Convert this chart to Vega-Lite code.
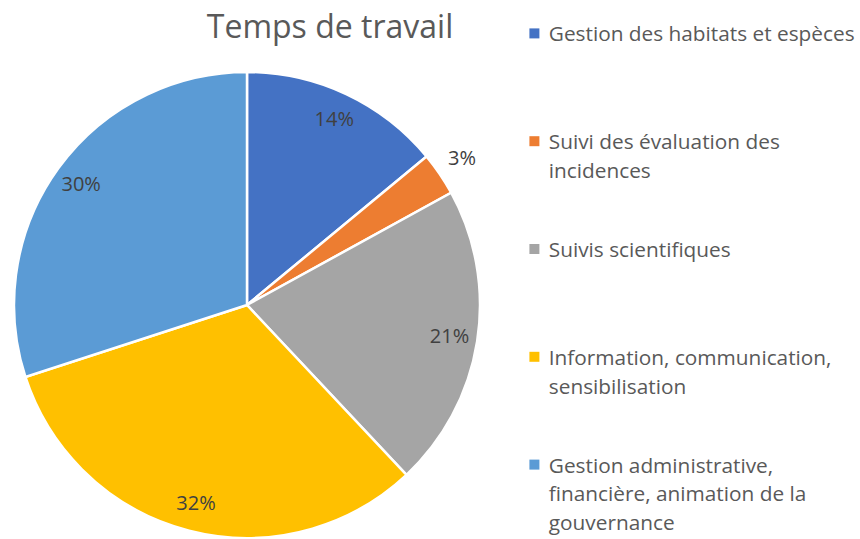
{
  "$schema": "https://vega.github.io/schema/vega-lite/v6.json",
  "autosize": {"type": "none"},
  "width": 466,
  "height": 466,
  "padding": {"left": 14, "top": 72, "right": 380, "bottom": 1},
  "background": "white",
  "config": {"style": {"guide-label": {"lineHeight": 28.8}}},
  "title": {
    "text": "Temps de travail",
    "anchor": "middle",
    "dx": 83,
    "offset": -14,
    "dy": 41,
    "baseline": "alphabetic",
    "font": "Open Sans",
    "fontSize": 32,
    "fontWeight": "normal",
    "color": "#595959"
  },
  "data": {
    "values": [
      {"ordre": 1, "categorie": "Gestion des habitats et espèces", "part": 0.14},
      {"ordre": 2, "categorie": "Suivi des évaluation des|incidences", "part": 0.03},
      {"ordre": 3, "categorie": "Suivis scientifiques", "part": 0.21},
      {"ordre": 4, "categorie": "Information, communication,|sensibilisation", "part": 0.32},
      {"ordre": 5, "categorie": "Gestion administrative,|financière, animation de la|gouvernance", "part": 0.30}
    ]
  },
  "encoding": {
    "theta": {"field": "part", "type": "quantitative", "stack": true},
    "order": {"field": "ordre", "type": "quantitative"}
  },
  "layer": [
    {
      "mark": {"type": "arc", "radius": 233, "stroke": "white", "strokeWidth": 2.5},
      "encoding": {
        "color": {
          "field": "categorie",
          "type": "nominal",
          "sort": {"field": "ordre"},
          "scale": {
            "domain": [
              "Gestion des habitats et espèces",
              "Suivi des évaluation des|incidences",
              "Suivis scientifiques",
              "Information, communication,|sensibilisation",
              "Gestion administrative,|financière, animation de la|gouvernance"
            ],
            "range": ["#4472C4", "#ED7D31", "#A5A5A5", "#FFC000", "#5B9BD5"]
          },
          "legend": {
            "title": null,
            "orient": "none",
            "legendX": 510,
            "legendY": -57,
            "symbolType": "M-1,0.6H1V2.6H-1Z",
            "symbolSize": 100,
            "symbolStrokeWidth": 0,
            "labelExpr": "split(datum.label, '|')",
            "labelFont": "Open Sans",
            "labelFontSize": 20.8,
            "labelColor": "#595959",
            "labelLimit": 400,
            "labelBaseline": "top",
            "labelOffset": 4,
            "gridAlign": "all",
            "rowPadding": 19.8
          }
        }
      }
    },
    {
      "mark": {"type": "text", "radius": 205, "font": "Open Sans", "fontSize": 20, "color": "#404040"},
      "encoding": {
        "text": {
          "condition": {"test": "datum.part < 0.05", "value": ""},
          "field": "part", "type": "quantitative", "format": ".0%"
        }
      }
    },
    {
      "mark": {"type": "text", "radius": 260, "font": "Open Sans", "fontSize": 20, "color": "#404040"},
      "encoding": {
        "text": {
          "condition": {"test": "datum.part >= 0.05", "value": ""},
          "field": "part", "type": "quantitative", "format": ".0%"
        }
      }
    }
  ]
}
